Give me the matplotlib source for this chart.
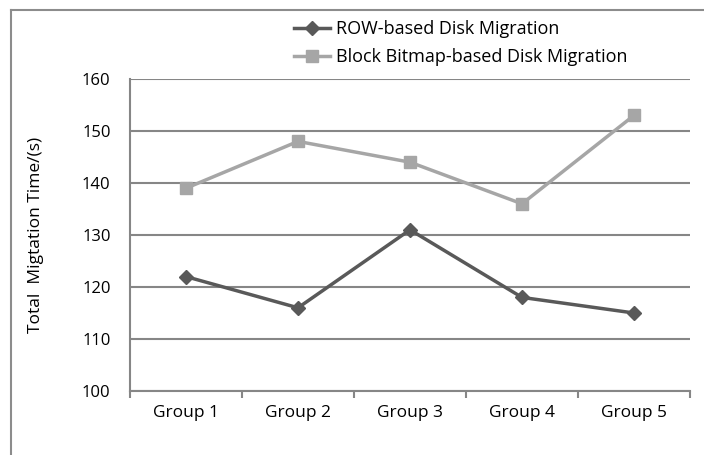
import matplotlib
matplotlib.use("Agg")
import matplotlib.pyplot as plt
from matplotlib.lines import Line2D

categories = ["Group 1", "Group 2", "Group 3", "Group 4", "Group 5"]
row_based = [122, 116, 131, 118, 115]
block_bitmap = [139, 148, 144, 136, 153]
series_names = ["ROW-based Disk Migration", "Block Bitmap-based Disk Migration"]
yticks = [100, 110, 120, 130, 140, 150, 160]

plt.rcParams['font.family'] = ['Open Sans', 'DejaVu Sans']

W, H = 704, 455
fig = plt.figure(figsize=(W / 100, H / 100), dpi=100)
ax = fig.add_axes([130 / W, 1 - 391 / H, 560 / W, 312 / H])

x = list(range(len(categories)))
ax.plot(x, row_based, color="#595959", lw=2.5, marker="D", ms=7, label=series_names[0], zorder=3)
ax.plot(x, block_bitmap, color="#A6A6A6", lw=2.5, marker="s", ms=8, label=series_names[1], zorder=3)

ax.set_xlim(-0.5, len(categories) - 0.5)
ax.set_ylim(100, 160)
ax.set_yticks(yticks)
ax.set_yticklabels([str(v) for v in yticks], fontsize=12, color="#000000")
ax.tick_params(axis="y", length=0, pad=14)
ax.set_xticks(x)
ax.set_xticklabels(categories, fontsize=12.5)
ax.tick_params(axis="x", length=0, pad=10)
ax.set_xticks([i - 0.5 for i in range(len(categories) + 1)], minor=True)
ax.tick_params(axis="x", which="minor", length=5, color="#868686", width=1.5)
ax.grid(axis="y", color="#868686", lw=1.5)
ax.set_axisbelow(True)
for side in ["top", "right"]:
    ax.spines[side].set_visible(False)
for side in ["left", "bottom"]:
    ax.spines[side].set_color("#868686")
    ax.spines[side].set_linewidth(1.5)

ax.set_ylabel("Total  Migtation Time/(s)", fontsize=12.5)
ax.yaxis.set_label_coords((44 - 130) / 560, 0.5)

handles, labels = ax.get_legend_handles_labels()
fig.legend(handles, labels, loc="upper left", bbox_to_anchor=(294 / W, 1 - 20 / H),
           frameon=False, fontsize=13, handlelength=2.0, handletextpad=0.3,
           labelspacing=0.55, borderpad=0, borderaxespad=0)

# outer chart border (top and left visible)
fig.add_artist(Line2D([11 / W, 11 / W], [0, 1 - 10 / H], transform=fig.transFigure, color="#8C8C8C", lw=1.5))
fig.add_artist(Line2D([11 / W, 1], [1 - 10 / H, 1 - 10 / H], transform=fig.transFigure, color="#8C8C8C", lw=1.5))

fig.savefig("out.png", dpi=100)
